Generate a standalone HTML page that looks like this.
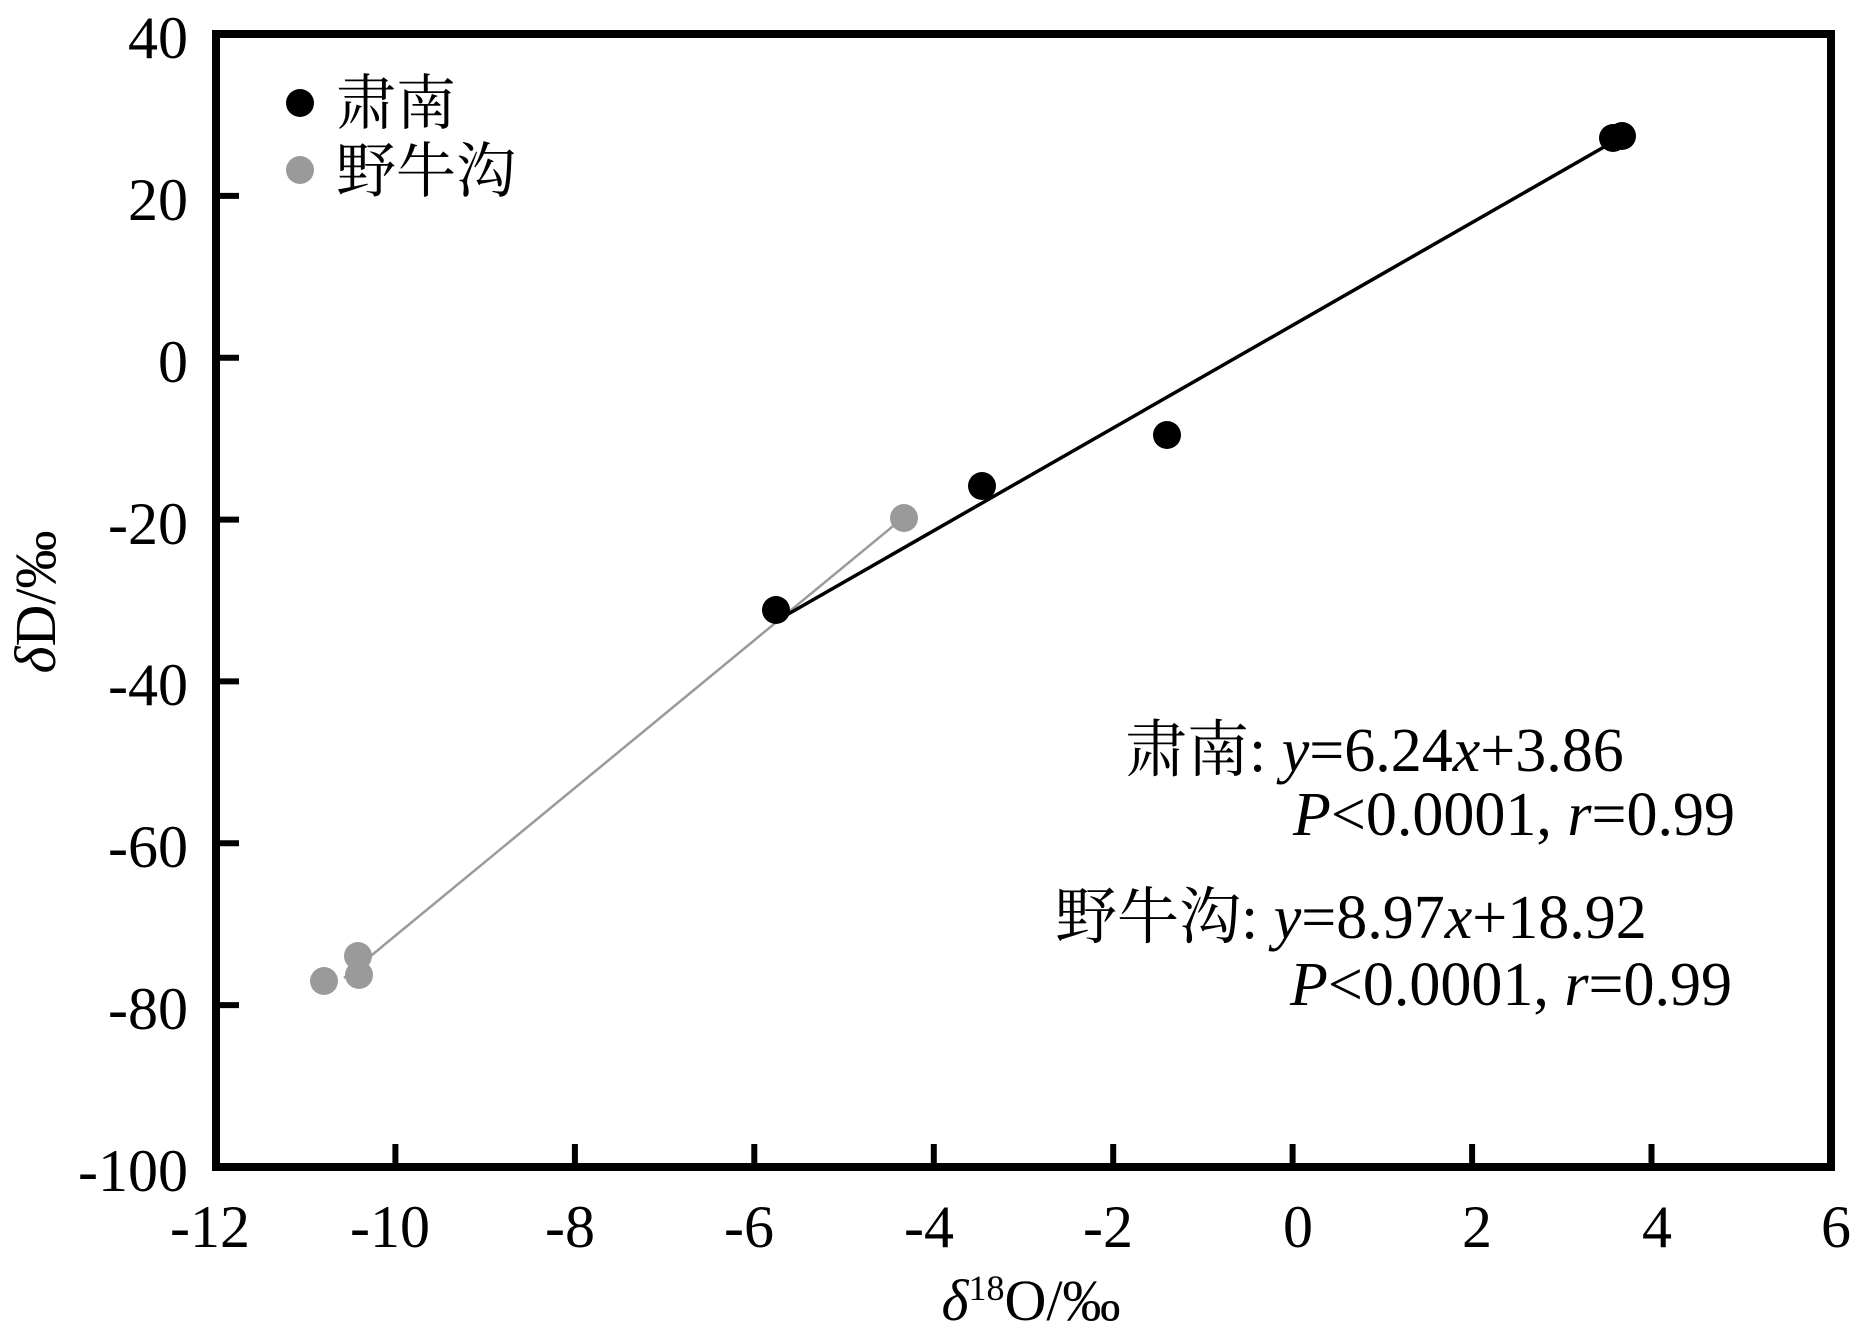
<!DOCTYPE html>
<html><head><meta charset="utf-8"><style>html,body{margin:0;padding:0;background:#fff}svg{display:block}</style></head>
<body>
<svg width="1862" height="1341" viewBox="0 0 1862 1341" xmlns="http://www.w3.org/2000/svg" font-family="'Liberation Serif','Noto Serif CJK SC',serif">
<rect width="1862" height="1341" fill="#fff"/>
<!-- regression lines -->
<line x1="344" y1="978" x2="898" y2="522" stroke="#9a9a9a" stroke-width="2.5"/>
<line x1="783" y1="617" x2="1604" y2="147" stroke="#000" stroke-width="3.5"/>
<!-- points -->
<g fill="#9a9a9a">
<circle cx="904" cy="518" r="14"/><circle cx="358" cy="956" r="14"/><circle cx="359" cy="975" r="14"/><circle cx="324" cy="981" r="14"/>
</g>
<g fill="#000">
<circle cx="1613" cy="138" r="14"/><circle cx="1622" cy="136" r="14"/><circle cx="1167" cy="435" r="14"/><circle cx="982" cy="486" r="14"/><circle cx="776" cy="610" r="14"/>
</g>
<!-- frame -->
<rect x="216" y="34" width="1615" height="1133" fill="none" stroke="#000" stroke-width="8"/>
<!-- ticks -->
<g stroke="#000" stroke-width="6">
<line x1="395.4" y1="1167" x2="395.4" y2="1144"/><line x1="574.9" y1="1167" x2="574.9" y2="1144"/><line x1="754.3" y1="1167" x2="754.3" y2="1144"/><line x1="933.8" y1="1167" x2="933.8" y2="1144"/><line x1="1113.2" y1="1167" x2="1113.2" y2="1144"/><line x1="1292.6" y1="1167" x2="1292.6" y2="1144"/><line x1="1472.1" y1="1167" x2="1472.1" y2="1144"/><line x1="1651.5" y1="1167" x2="1651.5" y2="1144"/>
<line x1="216" y1="195.9" x2="239" y2="195.9"/><line x1="216" y1="357.7" x2="239" y2="357.7"/><line x1="216" y1="519.6" x2="239" y2="519.6"/><line x1="216" y1="681.4" x2="239" y2="681.4"/><line x1="216" y1="843.3" x2="239" y2="843.3"/><line x1="216" y1="1005.1" x2="239" y2="1005.1"/>
</g>
<!-- y tick labels -->
<g font-size="60" text-anchor="end">
<text x="188" y="58">40</text><text x="188" y="220">20</text><text x="188" y="382">0</text><text x="188" y="544">-20</text><text x="188" y="705">-40</text><text x="188" y="867">-60</text><text x="188" y="1029">-80</text><text x="188" y="1191">-100</text>
</g>
<!-- x tick labels -->
<g font-size="60" text-anchor="middle">
<text x="210" y="1247">-12</text><text x="390" y="1247">-10</text><text x="570" y="1247">-8</text><text x="749" y="1247">-6</text><text x="929" y="1247">-4</text><text x="1108" y="1247">-2</text><text x="1298" y="1247">0</text><text x="1477" y="1247">2</text><text x="1657" y="1247">4</text><text x="1836" y="1247">6</text>
</g>
<!-- axis titles -->
<text x="1031" y="1320" font-size="58" text-anchor="middle"><tspan font-style="italic">δ</tspan><tspan font-size="36" dy="-20">18</tspan><tspan dy="20">O/‰</tspan></text>
<text transform="translate(55,602) rotate(-90)" font-size="58" text-anchor="middle"><tspan font-style="italic">δ</tspan>D/‰</text>
<!-- legend -->
<circle cx="300" cy="103" r="14" fill="#000"/>
<circle cx="300" cy="170" r="14" fill="#9a9a9a"/>
<text x="336" y="124" font-size="60">肃南</text>
<text x="336" y="192" font-size="60">野牛沟</text>
<!-- annotations -->
<g font-size="62">
<text x="1125" y="771">肃南: <tspan font-style="italic">y</tspan>=6.24<tspan font-style="italic">x</tspan>+3.86</text>
<text x="1735" y="835" text-anchor="end"><tspan font-style="italic">P</tspan>&lt;0.0001, <tspan font-style="italic">r</tspan>=0.99</text>
<text x="1055" y="938">野牛沟: <tspan font-style="italic">y</tspan>=8.97<tspan font-style="italic">x</tspan>+18.92</text>
<text x="1732" y="1005" text-anchor="end"><tspan font-style="italic">P</tspan>&lt;0.0001, <tspan font-style="italic">r</tspan>=0.99</text>
</g>
</svg>
</body></html>
